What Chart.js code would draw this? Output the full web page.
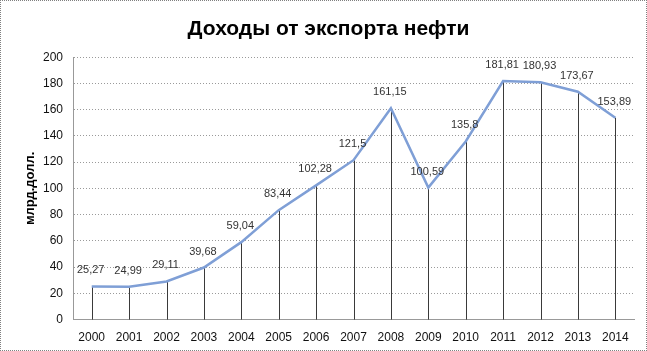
<!DOCTYPE html>
<html>
<head>
<meta charset="utf-8">
<script src="https://cdn.jsdelivr.net/npm/chart.js@4"></script>
<style>
  html, body { margin: 0; padding: 0; background: #fff; }
  .frame {
    position: absolute; left: 0; top: 0;
    width: 645px; height: 349px;
    border: 1px dotted #808080;
  }
  canvas { display: block; }
</style>
</head>
<body>
<div class="frame"><canvas id="chart" width="645" height="349"></canvas></div>
<script>
const years = ['2000', '2001', '2002', '2003', '2004', '2005', '2006', '2007',
               '2008', '2009', '2010', '2011', '2012', '2013', '2014']
const income = [25.27, 24.99, 29.11, 39.68, 59.04, 83.44, 102.28, 121.5,
                161.15, 100.59, 135.8, 181.81, 180.93, 173.67, 153.89]
const incomeLabels = ['25,27', '24,99', '29,11', '39,68', '59,04', '83,44', '102,28', '121,5',
                      '161,15', '100,59', '135,8', '181,81', '180,93', '173,67', '153,89']

const font = '"Liberation Sans", Arial, sans-serif'

// вертикальные линии от точки до оси + подписи значений
const dropLines = {
    id: 'dropLines',
    beforeDatasetsDraw(chart) {
        const ctx = chart.ctx
        const y = chart.scales.y
        const meta = chart.getDatasetMeta(0)
        ctx.save()
        ctx.strokeStyle = '#3a3a3a'
        ctx.lineWidth = 1
        meta.data.forEach(p => {
            const x = Math.round(p.x) + 0.5
            ctx.beginPath()
            ctx.moveTo(x, p.y)
            ctx.lineTo(x, y.getPixelForValue(0))
            ctx.stroke()
        })
        ctx.restore()
    },
    afterDatasetsDraw(chart) {
        const ctx = chart.ctx
        const meta = chart.getDatasetMeta(0)
        ctx.save()
        ctx.font = '11px ' + font
        ctx.fillStyle = '#333'
        ctx.textAlign = 'center'
        ctx.textBaseline = 'middle'
        meta.data.forEach((p, i) => {
            ctx.fillText(incomeLabels[i], p.x - 1, p.y - 16)
        })
        ctx.restore()
    }
}

const ctx = document.getElementById('chart')
new Chart(ctx, {
    type: 'line',
    data: {
        labels: years,
        datasets: [{
            data: income,
            borderColor: '#7f9fd6',
            borderWidth: 2.5,
            pointRadius: 0,
            tension: 0
        }]
    },
    options: {
        responsive: false,
        animation: false,
        layout: { padding: { left: 22, right: 12, top: 6, bottom: 2 } },
        plugins: {
            legend: { display: false },
            tooltip: { enabled: false },
            title: {
                display: true,
                text: 'Доходы от экспорта нефти',
                color: '#000',
                font: { family: font, size: 21, weight: 'bold' },
                padding: { top: 10, bottom: 15 }
            }
        },
        scales: {
            x: {
                offset: true,
                grid: { display: false },
                border: { color: '#999', dash: [1, 2] },
                ticks: {
                    color: '#111',
                    font: { family: font, size: 12 },
                    maxRotation: 0,
                    padding: 3
                }
            },
            y: {
                min: 0,
                max: 200,
                afterFit(scale) { scale.width = 50 },
                ticks: {
                    stepSize: 20,
                    color: '#111',
                    font: { family: font, size: 12 },
                    padding: 10
                },
                grid: { color: '#9a9a9a', drawTicks: false },
                border: { color: '#999', dash: [1, 2] },
                title: {
                    display: true,
                    text: 'млрд.долл.',
                    color: '#000',
                    font: { family: font, size: 13, weight: 'bold' },
                    padding: { top: 0, bottom: 4 }
                }
            }
        }
    },
    plugins: [dropLines]
})
</script>
</body>
</html>
